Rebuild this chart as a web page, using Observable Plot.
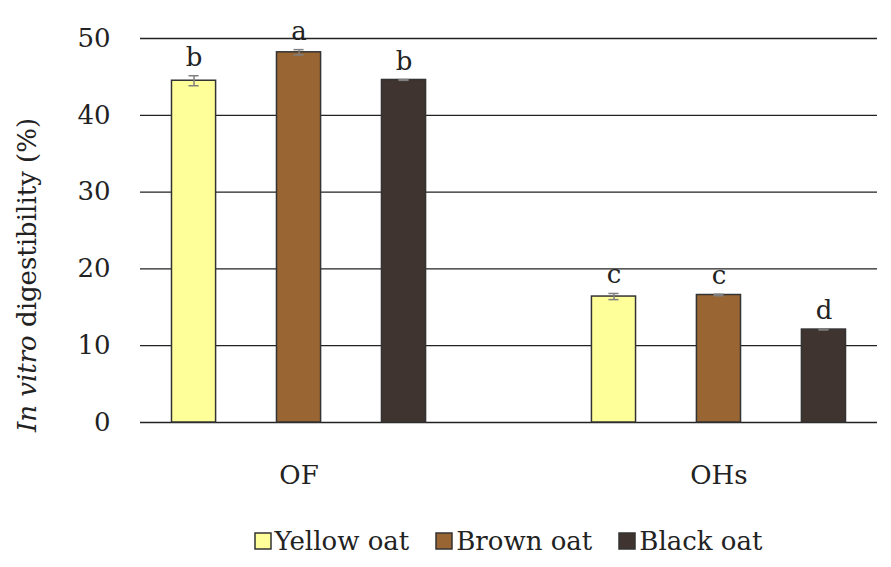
<!DOCTYPE html>
<html>
<head>
<meta charset="utf-8">
<script src="https://cdn.jsdelivr.net/npm/d3@7"></script>
<script src="https://cdn.jsdelivr.net/npm/@observablehq/plot@0.6"></script>
<style>
  html, body { margin: 0; padding: 0; background: #fff; }
  #chart { width: 891px; }
  .lg-swatches { justify-content: center !important; height: 52px !important; min-height: 52px !important; margin: 0 !important;
        padding-left: 126px !important; box-sizing: border-box; width: 891px;
        font-family: "DejaVu Serif", serif !important; font-size: 26px !important; color: #222 !important; }
  .lg-swatch { margin-right: 27px !important; }
  .lg-swatch:last-child { margin-right: 0 !important; }
  .lg-swatch svg { margin-right: 4px !important; overflow: visible; }
  .lg-swatch svg rect { stroke: #333; stroke-width: 1.5px; }
</style>
</head>
<body>
<div id="chart"></div>
<script>
const groups = ["OF", "OHs"];
const varieties = ["Yellow oat", "Brown oat", "Black oat"];
const colors = ["#ffff99", "#996633", "#3f3430"];
const ofValues = [44.5, 48.2, 44.6];
const ohsValues = [16.4, 16.6, 12.1];
const ofErrors = [0.65, 0.35, 0.05];
const ohsErrors = [0.4, 0.1, 0.05];
const ofLetters = ["b", "a", "b"];
const ohsLetters = ["c", "c", "d"];
const yTicks = [0, 10, 20, 30, 40, 50];

const values = [ofValues, ohsValues];
const errors = [ofErrors, ohsErrors];
const letters = [ofLetters, ohsLetters];

const rows = [];
groups.forEach((g, gi) => varieties.forEach((v, vi) => rows.push({
  slot: g + "|" + v, group: g, variety: v,
  value: values[gi][vi], err: errors[gi][vi], letter: letters[gi][vi]
})));
const slots = [
  ...varieties.map(v => "OF|" + v),
  "gap",
  ...varieties.map(v => "OHs|" + v)
];

const font = "DejaVu Serif";
const plot = Plot.plot({
  width: 891, height: 515,
  marginLeft: 140, marginRight: 14, marginTop: 38, marginBottom: 93,
  style: { fontFamily: font, fontSize: "26px", color: "#222", background: "white" },
  x: { domain: slots, paddingInner: 0.58, paddingOuter: 0.3, align: 0.5, round: false, axis: null },
  y: { domain: [0, 50], axis: null },
  color: { domain: varieties, range: colors },
  marks: [
    Plot.gridY(yTicks, { stroke: "#222", strokeOpacity: 1, strokeWidth: 1.3 }),
    Plot.axisY(yTicks, { tickSize: 0, tickPadding: 30, fontSize: 26, label: null }),
    Plot.axisX(["OF|Brown oat", "OHs|Brown oat"], {
      tickSize: 0, tickPadding: 43, fontSize: 26, label: null,
      tickFormat: d => d.split("|")[0]
    }),
    Plot.barY(rows, { x: "slot", y: "value", fill: "variety", stroke: "#333", strokeWidth: 1.5 }),
    Plot.ruleX(rows, { x: "slot", y1: d => d.value - d.err, y2: d => d.value + d.err, stroke: "#7f7f7f", strokeWidth: 1.5 }),
    Plot.tickY(rows, { x: "slot", y: d => d.value + d.err, stroke: "#7f7f7f", strokeWidth: 1.5, insetLeft: 17, insetRight: 17 }),
    Plot.tickY(rows, { x: "slot", y: d => d.value - d.err, stroke: "#7f7f7f", strokeWidth: 1.5, insetLeft: 17, insetRight: 17 }),
    Plot.text(rows, { x: "slot", y: d => d.value + d.err, text: "letter", lineAnchor: "bottom", dy: -10, fontSize: 26, fill: "#222" })
  ]
});

const svg = d3.select(plot.tagName.toLowerCase() === "svg" ? plot : plot.querySelector("svg"));
const title = svg.append("text")
  .attr("transform", "translate(29,275) rotate(-90)")
  .attr("text-anchor", "middle")
  .attr("dominant-baseline", "middle")
  .attr("font-family", font)
  .attr("font-size", 26)
  .attr("fill", "#222");
title.append("tspan").attr("font-style", "italic").text("In vitro");
title.append("tspan").text(" digestibility (%)");

const legend = plot.legend("color", { legend: "swatches", className: "lg", swatchSize: 16 });
const chart = document.getElementById("chart");
chart.appendChild(plot);
chart.appendChild(legend);
</script>
</body>
</html>
